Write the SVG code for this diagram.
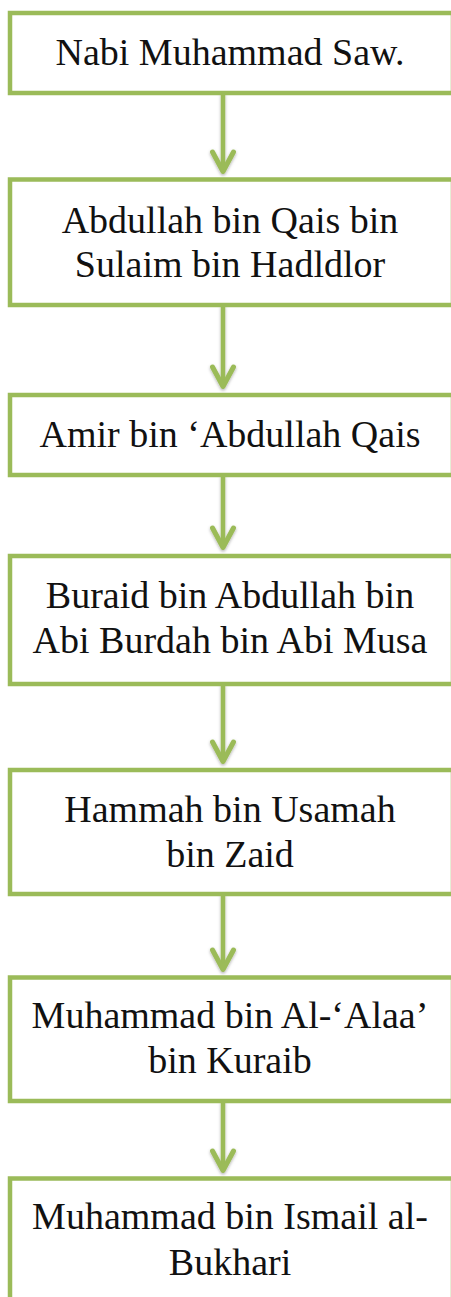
<svg xmlns="http://www.w3.org/2000/svg" width="451" height="1297" viewBox="0 0 451 1297">
<style>
.box{fill:#ffffff;stroke:#9BBB59;stroke-width:4.5}
.lbl{font-family:"Liberation Serif","Times New Roman",serif;font-size:38px;fill:#111111;text-anchor:middle}
.ln{stroke:#9BBB59;stroke-width:4.5;fill:none}
.hd{stroke:#9BBB59;stroke-width:5;fill:none;stroke-linecap:round;stroke-linejoin:round}
</style>
<defs>
<filter id="sh" x="-50%" y="-50%" width="200%" height="200%">
<feDropShadow dx="0" dy="1.5" stdDeviation="1.5" flood-color="#000000" flood-opacity="0.3"/>
</filter>
</defs>
<rect width="451" height="1297" fill="#ffffff"/>
<g id="connectors" filter="url(#sh)">
<g><line class="ln" x1="223" y1="93" x2="223" y2="170"/><polyline class="hd" points="212.5,152 223,171.5 233.5,152"/></g>
<g><line class="ln" x1="223" y1="305" x2="223" y2="385"/><polyline class="hd" points="212.5,367 223,386.5 233.5,367"/></g>
<g><line class="ln" x1="223" y1="475" x2="223" y2="546"/><polyline class="hd" points="212.5,528 223,547.5 233.5,528"/></g>
<g><line class="ln" x1="223" y1="684" x2="223" y2="760"/><polyline class="hd" points="212.5,742 223,761.5 233.5,742"/></g>
<g><line class="ln" x1="223" y1="894" x2="223" y2="968"/><polyline class="hd" points="212.5,950 223,969.5 233.5,950"/></g>
<g><line class="ln" x1="223" y1="1101" x2="223" y2="1169"/><polyline class="hd" points="212.5,1151 223,1170.5 233.5,1151"/></g>
</g>
<g id="n1"><rect class="box" x="10" y="13" width="443" height="80"/><text class="lbl" x="230" y="65">Nabi Muhammad Saw.</text></g>
<g id="n2"><rect class="box" x="10" y="179.5" width="443" height="125.5"/><text class="lbl" x="230" y="232.7">Abdullah bin Qais bin</text><text class="lbl" x="230" y="277.3">Sulaim bin Hadldlor</text></g>
<g id="n3"><rect class="box" x="10" y="395" width="443" height="80"/><text class="lbl" x="230" y="446.7">Amir bin ‘Abdullah Qais</text></g>
<g id="n4"><rect class="box" x="10" y="556" width="443" height="128"/><text class="lbl" x="230" y="608.3">Buraid bin Abdullah bin</text><text class="lbl" x="230" y="653.3">Abi Burdah bin Abi Musa</text></g>
<g id="n5"><rect class="box" x="10" y="770" width="443" height="124"/><text class="lbl" x="230" y="821.7">Hammah bin Usamah</text><text class="lbl" x="230" y="866.7">bin Zaid</text></g>
<g id="n6"><rect class="box" x="10" y="977.5" width="443" height="123.5"/><text class="lbl" x="230" y="1028.3">Muhammad bin Al-‘Alaa’</text><text class="lbl" x="230" y="1073.3">bin Kuraib</text></g>
<g id="n7"><rect class="box" x="10" y="1178.5" width="443" height="130"/><text class="lbl" x="230" y="1229">Muhammad bin Ismail al-</text><text class="lbl" x="230" y="1275">Bukhari</text></g>
</svg>
